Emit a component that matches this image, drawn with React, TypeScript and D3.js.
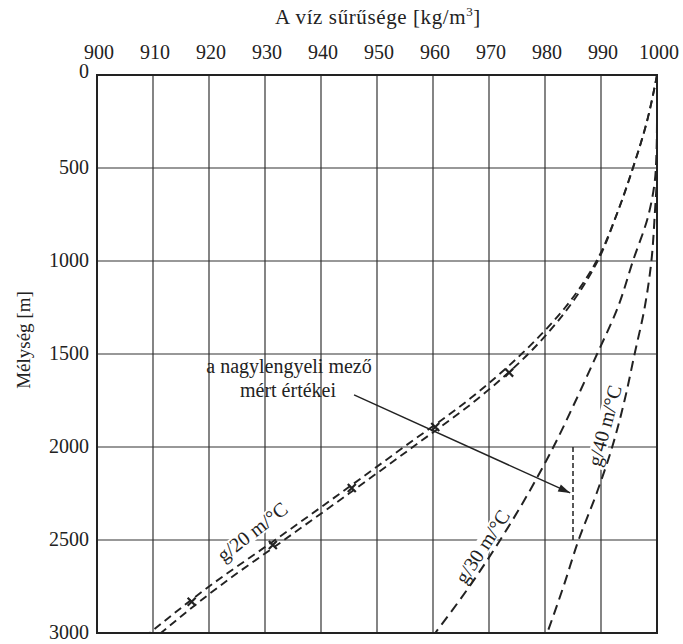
import { useEffect, useRef } from 'react';
import * as d3 from 'd3';

const densityTicks = [900, 910, 920, 930, 940, 950, 960, 970, 980, 990, 1000];
const depthTicks = [0, 500, 1000, 1500, 2000, 2500, 3000];

// depth [m] -> water density [kg/m3]
const depths = [0, 250, 500, 750, 1000, 1250, 1500, 1750, 2000, 2250, 2500, 2750, 3000];
const g20Left = [1000, 998.2, 995.7, 992.8, 989.2, 983.6, 975.8, 966.2, 954.8, 943.4, 931.8, 920.0, 909.4];
const g20Right = [1000, 998.2, 995.7, 992.8, 989.4, 984.2, 977.0, 967.6, 956.4, 945.0, 933.4, 921.8, 911.4];
const g30 = [1000, 1000, 999.8, 998.5, 995.7, 993.0, 989.3, 985.5, 981.5, 977.0, 972.0, 966.5, 960.4];
const g40 = [1000, 1000, 1000, 999.6, 999.0, 997.8, 996.0, 994.2, 992.0, 989.2, 986.0, 983.3, 980.4];

// measured values (Nagylengyel field)
const measuredDensity = [973.6, 960.4, 945.5, 931.4, 916.9];
const measuredDepth = [1600, 1892, 2220, 2527, 2832];

const curveLabels = [
  { text: 'g/20 m/°C', density: 927.7, depth: 2455, angle: -38 },
  { text: 'g/30 m/°C', density: 968.8, depth: 2535, angle: -57 },
  { text: 'g/40 m/°C', density: 990.6, depth: 1885, angle: -75 },
];

const W = 683;
const H = 644;
const FONT = '"Liberation Serif", "DejaVu Serif", serif';

export default function App() {
  const svgRef = useRef<SVGSVGElement>(null);

  useEffect(() => {
    if (!svgRef.current) return;
    const svg = d3.select(svgRef.current);
    svg.selectAll('*').remove();

    const x = d3.scaleLinear().domain([900, 1000]).range([97, 657]);
    const y = d3.scaleLinear().domain([0, 3000]).range([75, 633]);
    const ink = '#222';

    svg.append('rect').attr('width', W).attr('height', H).attr('fill', '#fff');

    // grid
    const grid = svg.append('g').attr('stroke', '#333').attr('stroke-width', 1.2);
    grid.selectAll('.vg')
      .data(densityTicks.slice(1, -1))
      .enter()
      .append('line')
      .attr('x1', d => x(d)).attr('x2', d => x(d))
      .attr('y1', y(0)).attr('y2', y(3000));
    grid.selectAll('.hg')
      .data(depthTicks.slice(1, -1))
      .enter()
      .append('line')
      .attr('x1', x(900)).attr('x2', x(1000))
      .attr('y1', d => y(d)).attr('y2', d => y(d));

    // frame
    svg.append('rect')
      .attr('x', x(900)).attr('y', y(0))
      .attr('width', x(1000) - x(900)).attr('height', y(3000) - y(0))
      .attr('fill', 'none').attr('stroke', ink).attr('stroke-width', 2);

    // tick labels
    svg.append('g').selectAll('text')
      .data(densityTicks)
      .enter()
      .append('text')
      .attr('x', d => x(d) + 2).attr('y', 59)
      .attr('text-anchor', 'middle')
      .attr('font-family', FONT).attr('font-size', 20).attr('fill', ink)
      .text(d => d);
    svg.append('g').selectAll('text')
      .data(depthTicks)
      .enter()
      .append('text')
      .attr('x', 89).attr('y', d => (d === 0 ? y(d) + 3 : y(d) + 6))
      .attr('text-anchor', 'end')
      .attr('font-family', FONT).attr('font-size', 20).attr('fill', ink)
      .text(d => d);

    // axis titles
    const title = svg.append('text')
      .attr('x', 378).attr('y', 24)
      .attr('text-anchor', 'middle')
      .attr('font-family', FONT).attr('font-size', 21).attr('fill', ink)
      .attr('letter-spacing', 0.6);
    title.append('tspan').text('A víz sűrűsége [kg/m');
    title.append('tspan').attr('dy', -8).attr('font-size', 13).text('3');
    title.append('tspan').attr('dy', 8).text(']');

    svg.append('text')
      .attr('transform', 'translate(30,340) rotate(-90)')
      .attr('text-anchor', 'middle')
      .attr('font-family', FONT).attr('font-size', 19).attr('fill', ink)
      .text('Mélység [m]');

    // curves
    const line = d3.line<number>()
      .x(d => x(d))
      .y((_, i) => y(depths[i]))
      .curve(d3.curveMonotoneY);

    const curves = [
      { values: g20Left, dash: '8,5', width: 1.9 },
      { values: g20Right, dash: '8,5', width: 1.9 },
      { values: g30, dash: '10,6', width: 2 },
      { values: g40, dash: '10,6', width: 2 },
    ];
    svg.append('g').selectAll('path')
      .data(curves)
      .enter()
      .append('path')
      .attr('d', d => line(d.values))
      .attr('fill', 'none')
      .attr('stroke', ink)
      .attr('stroke-width', d => d.width)
      .attr('stroke-dasharray', d => d.dash);

    // measured bracket (dashed vertical)
    svg.append('line')
      .attr('x1', x(985)).attr('x2', x(985))
      .attr('y1', y(2000)).attr('y2', y(2500))
      .attr('stroke', ink).attr('stroke-width', 1.5)
      .attr('stroke-dasharray', '5,3');

    // measured markers
    svg.append('g').selectAll('path')
      .data(measuredDensity)
      .enter()
      .append('path')
      .attr('d', (d, i) => {
        const cx = x(d);
        const cy = y(measuredDepth[i]);
        const s = 4;
        return `M${cx - s},${cy - s}L${cx + s},${cy + s}M${cx - s},${cy + s}L${cx + s},${cy - s}`;
      })
      .attr('stroke', ink).attr('stroke-width', 2.2);

    // curve labels with white background
    curveLabels.forEach(l => {
      const g = svg.append('g')
        .attr('transform', `translate(${x(l.density)},${y(l.depth)}) rotate(${l.angle})`);
      const t = g.append('text')
        .attr('text-anchor', 'middle')
        .attr('dy', '0.35em')
        .attr('font-family', FONT).attr('font-size', 20).attr('fill', ink)
        .text(l.text);
      const bb = (t.node() as SVGTextElement).getBBox();
      g.insert('rect', 'text')
        .attr('x', bb.x - 2).attr('y', bb.y + 3)
        .attr('width', bb.width + 4).attr('height', bb.height - 6)
        .attr('fill', '#fff');
    });

    // annotation
    const ann = svg.append('text')
      .attr('text-anchor', 'middle')
      .attr('font-family', FONT).attr('font-size', 20).attr('fill', ink);
    ann.append('tspan').attr('x', 289).attr('y', 373).text('a nagylengyeli mező');
    ann.append('tspan').attr('x', 288).attr('y', 397).text('mért értékei');

    // arrow
    const ax1 = x(945.9), ay1 = y(1720), ax2 = x(984.5), ay2 = y(2247);
    svg.append('line')
      .attr('x1', ax1).attr('y1', ay1).attr('x2', ax2).attr('y2', ay2)
      .attr('stroke', ink).attr('stroke-width', 1.4);
    const ang = Math.atan2(ay2 - ay1, ax2 - ax1);
    const hl = 12, hw = 3.8;
    const bx = ax2 - hl * Math.cos(ang), by = ay2 - hl * Math.sin(ang);
    svg.append('path')
      .attr('d', `M${ax2},${ay2}L${bx - hw * Math.sin(ang)},${by + hw * Math.cos(ang)}L${bx + hw * Math.sin(ang)},${by - hw * Math.cos(ang)}Z`)
      .attr('fill', ink);
  }, []);

  return (
    <svg
      ref={svgRef}
      width={W}
      height={H}
      style={{ position: 'absolute', left: 0, top: 0, display: 'block' }}
    />
  );
}
